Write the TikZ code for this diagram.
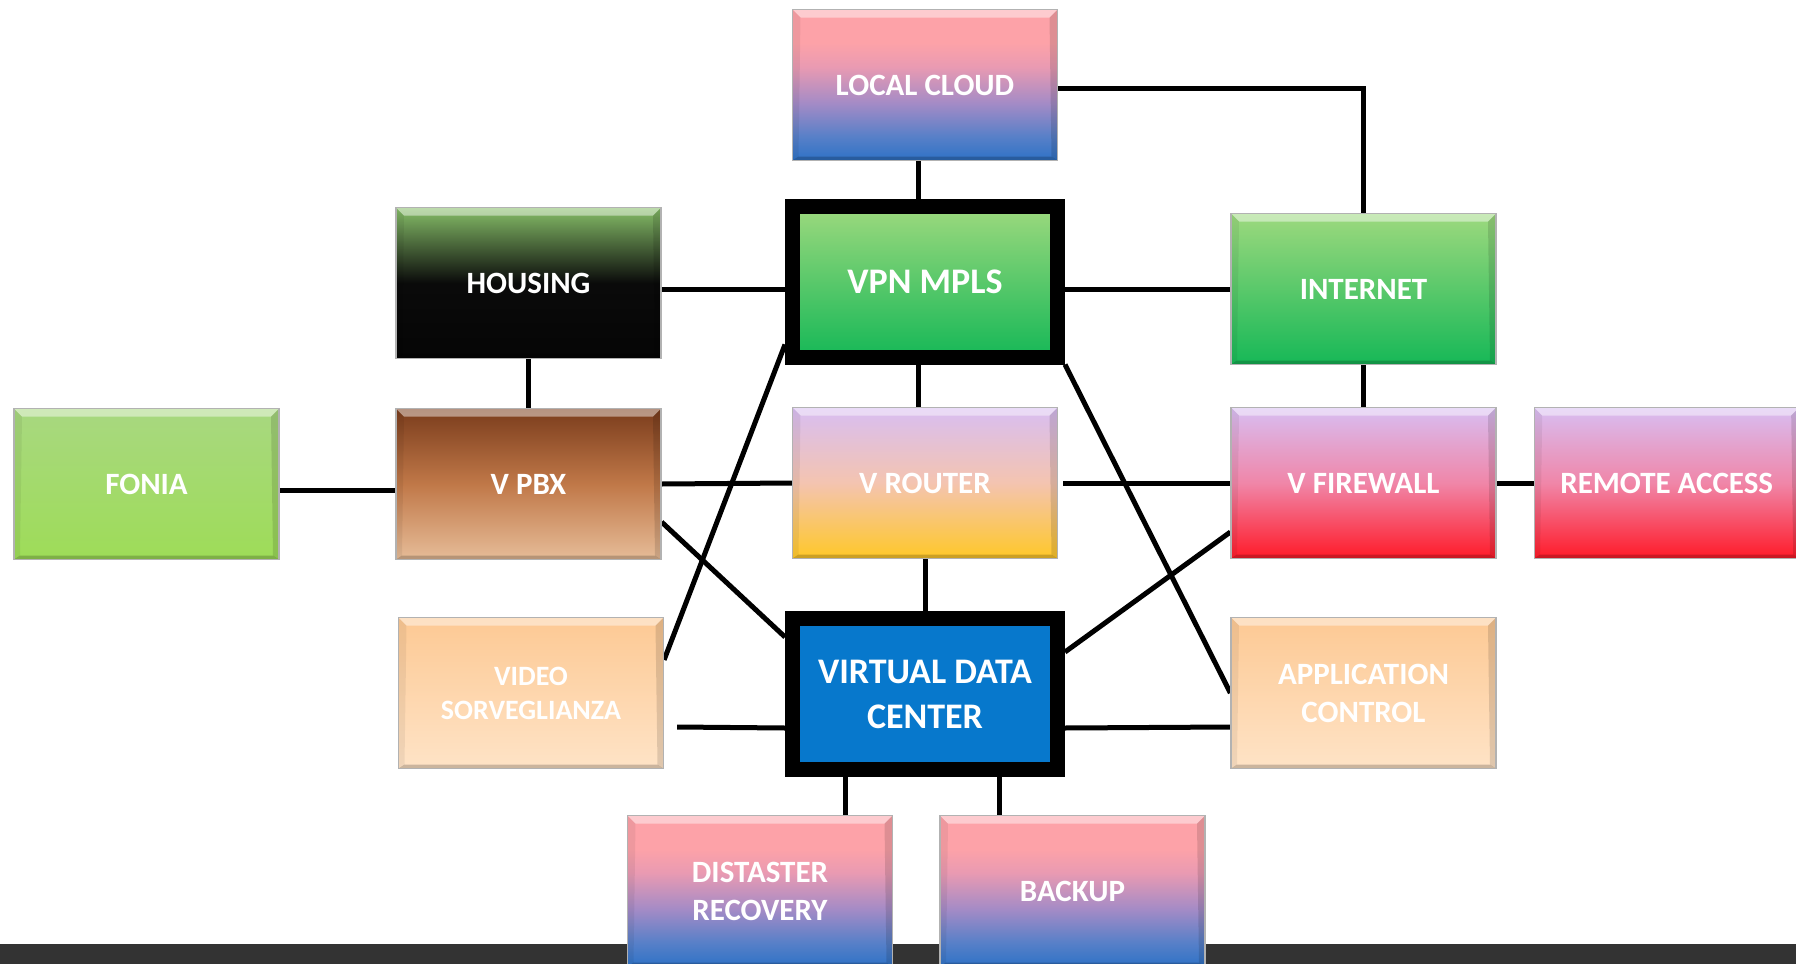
\documentclass[tikz,border=0pt]{standalone}
\usepackage{fontspec}
\setmainfont{Carlito}
\usetikzlibrary{positioning}
\usetikzlibrary{backgrounds}

\definecolor{pinkTop}{HTML}{FDA2A8}
\definecolor{pinkMid}{HTML}{E99AB2}
\definecolor{mauveMid}{HTML}{A48BC6}
\definecolor{blueMid}{HTML}{5880C8}
\definecolor{blueBot}{HTML}{2E72C6}
\definecolor{greenTop}{HTML}{9DD97E}
\definecolor{greenBot}{HTML}{16B857}
\definecolor{limeTop}{HTML}{A8D880}
\definecolor{limeBot}{HTML}{9EDC58}
\definecolor{mossTop}{HTML}{86BE68}
\definecolor{brownTop}{HTML}{7A3C1C}
\definecolor{brownMid}{HTML}{C07848}
\definecolor{brownBot}{HTML}{E6BC98}
\definecolor{lavTop}{HTML}{D8BEF2}
\definecolor{peachMid}{HTML}{F4C4B0}
\definecolor{goldBot}{HTML}{FFC828}
\definecolor{roseMid}{HTML}{F086A8}
\definecolor{redBot}{HTML}{FF1A28}
\definecolor{apricotTop}{HTML}{FDC994}
\definecolor{apricotBot}{HTML}{FEE3C6}
\definecolor{vdcBlue}{HTML}{0778CC}
\definecolor{barGray}{HTML}{333333}

\pgfdeclareverticalshading{cloudshade}{100bp}{color(0bp)=(blueBot); color(25bp)=(blueBot);
    color(33bp)=(blueMid); color(44bp)=(mauveMid); color(56bp)=(pinkMid);
    color(64bp)=(pinkTop); color(75bp)=(pinkTop); color(100bp)=(pinkTop)}

\tikzset{netbox/.style={rectangle,
                        minimum width=132.5pt,
                        minimum height=75.5pt,
                        inner sep=2pt,
                        align=center,
                        text=white,
                        draw=black!30,
                        line width=0.6pt,
                        font=\bfseries\fontsize{15.5}{19}\selectfont,
                        path picture={
                            \fill[white, opacity=0.45] (path picture bounding box.north west) -- (path picture bounding box.north east)
                                -- ([shift={(-4pt,-4pt)}]path picture bounding box.north east) -- ([shift={(4pt,-4pt)}]path picture bounding box.north west) -- cycle;
                            \fill[black, opacity=0.2] (path picture bounding box.south west) -- (path picture bounding box.south east)
                                -- ([shift={(-3pt,2pt)}]path picture bounding box.south east) -- ([shift={(3pt,2pt)}]path picture bounding box.south west) -- cycle;
                            \fill[black, opacity=0.12] (path picture bounding box.north east) -- (path picture bounding box.south east)
                                -- ([shift={(-3pt,2pt)}]path picture bounding box.south east) -- ([shift={(-4pt,-4pt)}]path picture bounding box.north east) -- cycle;
                            \fill[black, opacity=0.06] (path picture bounding box.north west) -- (path picture bounding box.south west)
                                -- ([shift={(3pt,2pt)}]path picture bounding box.south west) -- ([shift={(4pt,-4pt)}]path picture bounding box.north west) -- cycle;
                        }
                        },
        corebox/.style={netbox,
                        draw=black,
                        line width=7.5pt,
                        path picture={},
                        font=\bfseries\fontsize{18}{22.5}\selectfont
        },
        link/.style={line width=2.5pt, black},
        cloudfill/.style={shading=cloudshade},
        greenfill/.style={top color=greenTop, bottom color=greenBot},
        limefill/.style={top color=limeTop, bottom color=limeBot},
        blackfill/.style={top color=mossTop, bottom color=black!98, middle color=black!96},
        brownfill/.style={top color=brownTop, bottom color=brownBot, middle color=brownMid},
        goldfill/.style={top color=lavTop, bottom color=goldBot, middle color=peachMid},
        redfill/.style={top color=lavTop, bottom color=redBot, middle color=roseMid},
        apricotfill/.style={top color=apricotTop, bottom color=apricotBot},
}

\begin{document}
\begin{tikzpicture}
    [x=0.5pt,y=-0.5pt]

    \useasboundingbox (0,0) rectangle (1796,964);
    \fill[barGray] (0,944) rectangle (1796,964);

    % CORE
    \node[corebox, greenfill] (vpn) at (925,281.5) {VPN MPLS};
    \node[corebox, fill=vdcBlue] (vdc) at (925,694) {VIRTUAL DATA\\CENTER};

    % TOP AND MIDDLE COLUMN
    \node[netbox, cloudfill] (lcloud) at (925,85) {LOCAL CLOUD};
    \node[netbox, goldfill] (vrouter) at (925,483) {V ROUTER};

    % LEFT SIDE
    \node[netbox, blackfill] (housing) at (528.5,283) {HOUSING};
    \node[netbox, brownfill] (vpbx) at (528.5,484) {V PBX};
    \node[netbox, limefill] (fonia) at (146.5,484) {FONIA};
    \node[netbox, apricotfill, font=\bfseries\fontsize{14}{17}\selectfont] (video) at (531,693) {VIDEO\\SORVEGLIANZA};

    % RIGHT SIDE
    \node[netbox, greenfill] (internet) at (1363.5,289) {INTERNET};
    \node[netbox, redfill] (vfw) at (1363.5,483) {V FIREWALL};
    \node[netbox, redfill, right=18.5pt of vfw] (remote) {REMOTE ACCESS};
    \node[netbox, apricotfill] (app) at (1363.5,693) {APPLICATION\\CONTROL};

    % BOTTOM
    \node[netbox, cloudfill] (dr) at (760,891) {DISTASTER\\RECOVERY};
    \node[netbox, cloudfill] (backup) at (1072.5,891) {BACKUP};

    % LINKS
    \begin{scope}[on background layer]
    \draw[link] ([yshift=-1.5pt]lcloud.east) -| (internet.north);
    \draw[link] ([xshift=-3.5pt]lcloud.south) -- ([xshift=-3.5pt]vpn.north);
    \draw[link] (housing.east |- internet.west) -- (vpn.west |- internet.west);
    \draw[link] (vpn.east |- internet.west) -- (internet.west);
    \draw[link] (housing.south) -- (vpbx.north);
    \draw[link] ([yshift=-3pt]fonia.east) -- ([yshift=-3pt]vpbx.west);
    \draw[link] (vpbx.east) -- (vrouter.west);
    \draw[link] ([xshift=2.5pt]vrouter.east) -- (vfw.west);
    \draw[link] (vfw.east) -- (remote.west);
    \draw[link] (internet.south) -- (vfw.north);
    \draw[link] ([xshift=-3.5pt]vpn.south) -- ([xshift=-3.5pt]vrouter.north);
    \draw[link] (vrouter.south) -- (vdc.north);
    \draw[link] ([yshift=-19pt]vpbx.east) -- ([yshift=-13pt]vdc.north west);
    \draw[link] ([yshift=-21.5pt]video.north east) -- ([yshift=10pt]vpn.south west);
    \draw[link] ([shift={(6.5pt,-17pt)}]video.east) -- ([yshift=-17pt]vdc.west);
    \draw[link] (vpn.south east) -- (app.west);
    \draw[link] ([yshift=-24.5pt]vfw.west) -- ([yshift=-20.5pt]vdc.north east);
    \draw[link] ([yshift=-17pt]vdc.east) -- ([yshift=-17pt]app.west);
    \draw[link] ([xshift=-40pt]vdc.south) -- ([xshift=42.5pt]dr.north);
    \draw[link] ([xshift=37pt]vdc.south) -- ([xshift=-36.75pt]backup.north);
    \end{scope}

\end{tikzpicture}
\end{document}
